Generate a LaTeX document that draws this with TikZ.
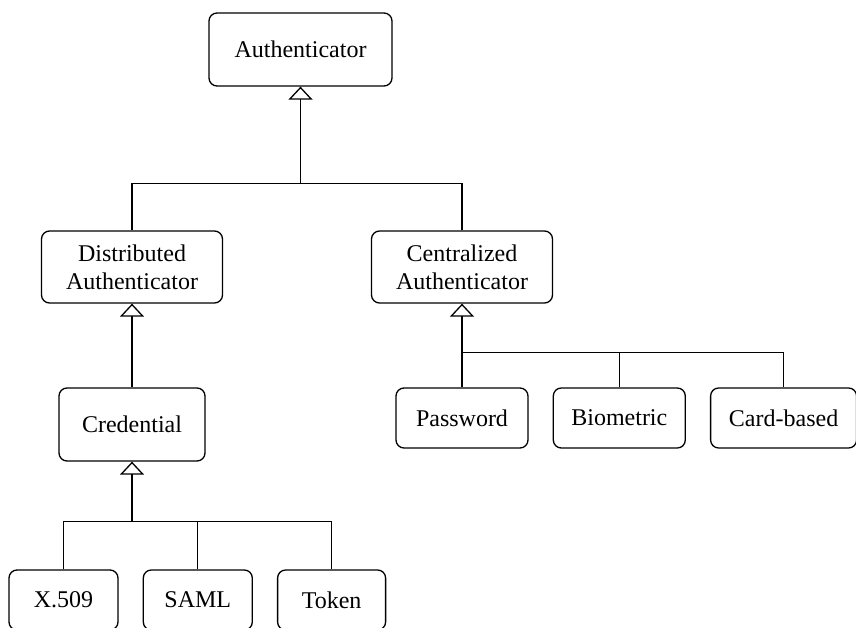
\documentclass[tikz,border=0pt]{standalone}
\usepackage{fontspec}
\setmainfont{Liberation Serif}
\usetikzlibrary{positioning,calc,arrows.meta}

\begin{document}
\begin{tikzpicture}[x=1pt,y=1pt,node distance=24pt,font=\fontsize{24}{28}\selectfont]
\tikzstyle{cls}=[draw=black, line width=1.3pt, rounded corners=8pt, align=center, inner sep=0pt, minimum width=181pt, minimum height=72pt]
\tikzstyle{leaf}=[cls, minimum height=60pt]
\tikzstyle{link}=[line width=1.3pt]
\tikzstyle{gen}=[link, -{Triangle[open, width=24pt, length=13pt]}]
\useasboundingbox (0,0) rectangle (856,-628);
% classes
\node[cls, minimum width=183pt, minimum height=73pt] (auth) at (300.5,-49.5) {Authenticator};
\node[cls] (dist) at (132,-267) {Distributed\\Authenticator};
\node[cls] (cent) at (462,-267) {Centralized\\Authenticator};
\node[cls, minimum width=146pt, minimum height=73pt] (cred) at (132,-424.5) {Credential};
% centralized kinds
\node[leaf, minimum width=132pt] (pass) at (462,-418) {Password};
\node[leaf, minimum width=132pt, right=of pass] (bio) {Biometric};
\node[leaf, minimum width=146pt, right=of bio] (card) {Card-based};
% credential kinds
\node[leaf, minimum width=109pt] (x509) at (63.5,-600) {X.509};
\node[leaf, minimum width=109pt, right=of x509] (saml) {SAML};
\node[leaf, minimum width=108pt, right=of saml] (token) {Token};
% junctions
\coordinate (j1) at ($(auth.south)+(0,-97)$);
\coordinate (j3) at ($(cred.south)+(0,-60)$);
\coordinate (j4) at ($(cent.south)+(0,-49)$);
% generalization
\draw[link] (dist.north) |- (j1) -| (cent.north);
\draw[gen] (j1) -- (auth.south);
\draw[gen] (cred.north) -- (dist.south);
\draw[link] (pass.north) |- (j4) -| (card.north);
\draw[link] (bio.north) -- (bio.north |- j4);
\draw[gen] (j4) -- (cent.south);
\draw[link] (x509.north) |- (j3) -| (token.north);
\draw[link] (saml.north) -- (saml.north |- j3);
\draw[gen] (j3) -- (cred.south);
\end{tikzpicture}
\end{document}
